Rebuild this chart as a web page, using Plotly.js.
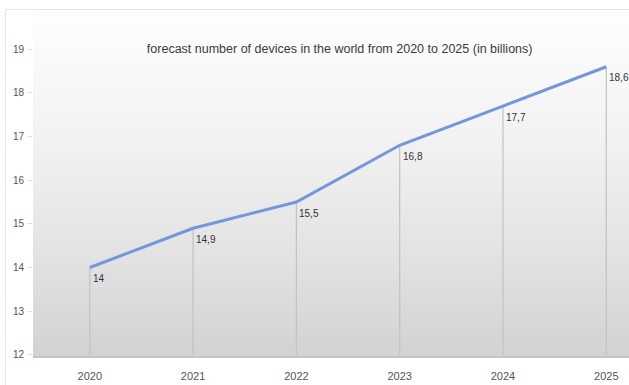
<!DOCTYPE html>
<html><head><meta charset="utf-8">
<script src="https://cdn.plot.ly/plotly-3.0.1.min.js"></script>
<style>
html,body{margin:0;padding:0;background:#fff;}
#wrap{position:relative;width:629px;height:385px;overflow:hidden;background:#fff;}
#frame{position:absolute;left:5px;top:9px;width:640px;height:400px;border-left:1px solid #e6e6e6;border-top:1px solid #e6e6e6;}
#bg{position:absolute;left:33px;top:10px;width:596px;height:347px;background:linear-gradient(to bottom,#fefefe 0%,#f3f3f3 35%,#e3e3e3 70%,#d2d2d2 100%);}
#chart{position:absolute;left:0;top:0;width:629px;height:385px;}
</style></head>
<body><div id="wrap"><div id="frame"></div><div id="bg"></div><div id="chart"></div></div>
<script>
const years = ['2020','2021','2022','2023','2024','2025'];
const devices = [14, 14.9, 15.5, 16.8, 17.7, 18.6];
const yTicks = [12,13,14,15,16,17,18,19];
const axisBase = 12;

const labels = devices.map(v => String(v).replace('.', ','));

const trace = {
  x: years, y: devices, type: 'scatter', mode: 'lines',
  line: {color: '#7496dc', width: 3},
  error_y: {type: 'data', symmetric: false,
    array: devices.map(() => 0), arrayminus: devices.map(v => v - axisBase),
    color: '#c2c2c2', thickness: 1.2, width: 0},
  hoverinfo: 'skip'
};

// category axis: annotation x given as category index
const annotations = years.map((yr, i) => ({
  x: i, y: devices[i], text: labels[i], showarrow: false,
  xanchor: 'left', yanchor: 'middle', xshift: 1, yshift: -11,
  font: {family: 'Liberation Sans, Arial, sans-serif', size: 10, color: '#333'}
}));

const layout = {
  width: 629, height: 385,
  margin: {l: 33, r: 0, t: 10, b: 28},
  paper_bgcolor: 'rgba(0,0,0,0)', plot_bgcolor: 'rgba(0,0,0,0)',
  showlegend: false,
  font: {family: 'Liberation Sans, Arial, sans-serif', size: 10, color: '#555'},
  title: {text: 'forecast number of devices in the world from 2020 to 2025 (in billions)',
    font: {size: 12.5, color: '#3a3a3a'}, x: 0.54, xanchor: 'center', y: 0.875, yanchor: 'middle'},
  xaxis: {type: 'category', range: [-0.55, 5.22], showgrid: false, zeroline: false,
    showline: false, ticks: '', ticklabelstandoff: 11, tickfont: {size: 11, color: '#555'}},
  yaxis: {range: [11.95, 19.9], tickvals: yTicks, showgrid: false, zeroline: false,
    showline: false, ticks: 'outside', ticklen: 4, tickcolor: '#ddd', ticklabelstandoff: 2,
    tickfont: {size: 10, color: '#555'}},
  annotations: annotations,
  shapes: [{type: 'line', xref: 'paper', yref: 'paper', x0: 0, x1: 1, y0: 0, y1: 0,
    line: {color: '#c4c4c4', width: 2}}]
};
Plotly.newPlot('chart', [trace], layout, {displayModeBar: false, staticPlot: true});
</script></body></html>
